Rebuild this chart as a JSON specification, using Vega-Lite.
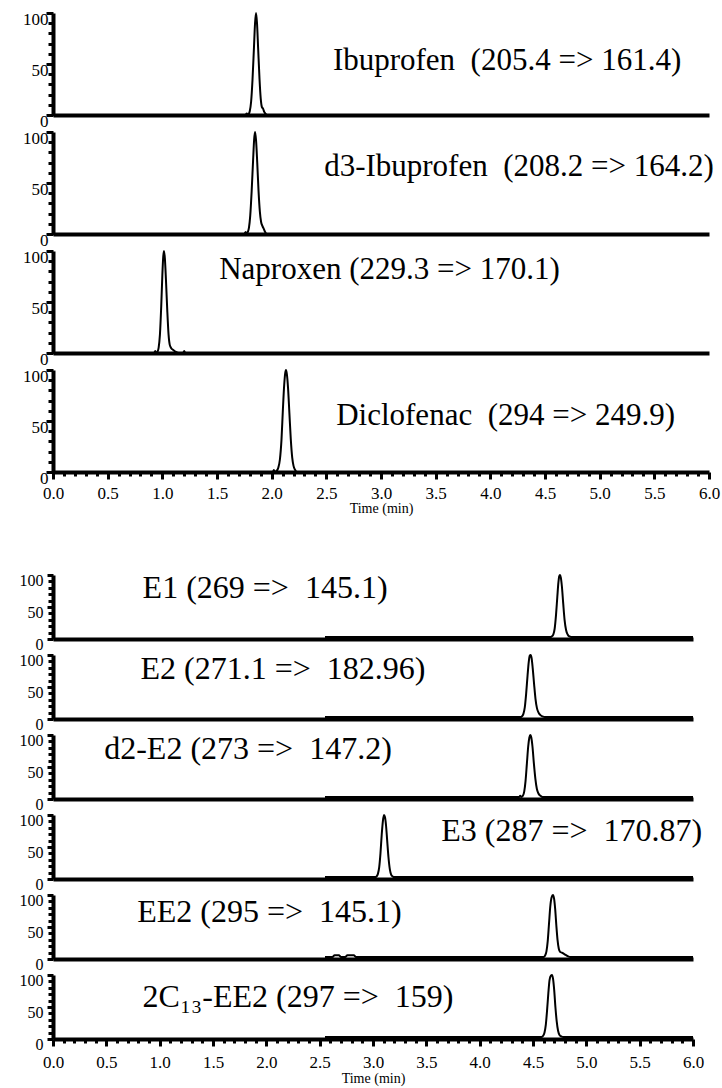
{
  "$schema": "https://vega.github.io/schema/vega-lite/v6.json",
  "background": "white",
  "padding": {"left": 13, "top": 9, "right": 5, "bottom": 5},
  "config": {
    "view": {"stroke": null},
    "axis": {"domainColor": "black", "domainWidth": 4, "tickColor": "black", "tickWidth": 3, "labelColor": "black", "labelFont": "Liberation Serif", "titleFont": "Liberation Serif", "titleColor": "black", "titleFontWeight": "normal", "grid": false, "labelFlush": false, "labelOverlap": false, "labelBound": false},
    "text": {"font": "Liberation Serif", "align": "left", "baseline": "alphabetic", "color": "black"},
    "line": {"color": "black", "strokeWidth": 2, "interpolate": "monotone"}
  },
  "datasets": {
    "top": [
      {"p":"Ibuprofen","t":0,"i":0},{"p":"Ibuprofen","t":1.76,"i":0},{"p":"Ibuprofen","t":1.772,"i":1.5},{"p":"Ibuprofen","t":1.782,"i":0},{"p":"Ibuprofen","t":1.79,"i":1},{"p":"Ibuprofen","t":1.8,"i":4},{"p":"Ibuprofen","t":1.812,"i":13},{"p":"Ibuprofen","t":1.825,"i":35},{"p":"Ibuprofen","t":1.838,"i":66},{"p":"Ibuprofen","t":1.848,"i":90},{"p":"Ibuprofen","t":1.857,"i":100},{"p":"Ibuprofen","t":1.866,"i":90},{"p":"Ibuprofen","t":1.876,"i":66},{"p":"Ibuprofen","t":1.889,"i":35},{"p":"Ibuprofen","t":1.9,"i":16},{"p":"Ibuprofen","t":1.91,"i":8},{"p":"Ibuprofen","t":1.922,"i":6},{"p":"Ibuprofen","t":1.932,"i":3},{"p":"Ibuprofen","t":1.945,"i":1},{"p":"Ibuprofen","t":1.96,"i":0},{"p":"Ibuprofen","t":6,"i":0},
      {"p":"d3-Ibuprofen","t":0,"i":0},{"p":"d3-Ibuprofen","t":1.75,"i":0},{"p":"d3-Ibuprofen","t":1.762,"i":2},{"p":"d3-Ibuprofen","t":1.772,"i":0},{"p":"d3-Ibuprofen","t":1.782,"i":2},{"p":"d3-Ibuprofen","t":1.792,"i":6},{"p":"d3-Ibuprofen","t":1.804,"i":18},{"p":"d3-Ibuprofen","t":1.817,"i":42},{"p":"d3-Ibuprofen","t":1.83,"i":72},{"p":"d3-Ibuprofen","t":1.84,"i":93},{"p":"d3-Ibuprofen","t":1.848,"i":100},{"p":"d3-Ibuprofen","t":1.857,"i":92},{"p":"d3-Ibuprofen","t":1.868,"i":70},{"p":"d3-Ibuprofen","t":1.88,"i":42},{"p":"d3-Ibuprofen","t":1.892,"i":22},{"p":"d3-Ibuprofen","t":1.903,"i":12},{"p":"d3-Ibuprofen","t":1.915,"i":8},{"p":"d3-Ibuprofen","t":1.928,"i":5},{"p":"d3-Ibuprofen","t":1.94,"i":2},{"p":"d3-Ibuprofen","t":1.955,"i":0},{"p":"d3-Ibuprofen","t":2.55,"i":0},
      {"p":"Naproxen","t":0,"i":0},{"p":"Naproxen","t":0.925,"i":0},{"p":"Naproxen","t":0.935,"i":2},{"p":"Naproxen","t":0.945,"i":0},{"p":"Naproxen","t":0.955,"i":1},{"p":"Naproxen","t":0.966,"i":5},{"p":"Naproxen","t":0.978,"i":18},{"p":"Naproxen","t":0.99,"i":46},{"p":"Naproxen","t":1.0,"i":76},{"p":"Naproxen","t":1.008,"i":94},{"p":"Naproxen","t":1.015,"i":100},{"p":"Naproxen","t":1.023,"i":93},{"p":"Naproxen","t":1.033,"i":72},{"p":"Naproxen","t":1.045,"i":42},{"p":"Naproxen","t":1.057,"i":18},{"p":"Naproxen","t":1.068,"i":8},{"p":"Naproxen","t":1.08,"i":5},{"p":"Naproxen","t":1.1,"i":3},{"p":"Naproxen","t":1.125,"i":1},{"p":"Naproxen","t":1.15,"i":0},{"p":"Naproxen","t":1.19,"i":0},{"p":"Naproxen","t":1.2,"i":2},{"p":"Naproxen","t":1.21,"i":0},{"p":"Naproxen","t":2.55,"i":0},
      {"p":"Diclofenac","t":0,"i":0},{"p":"Diclofenac","t":2.01,"i":0},{"p":"Diclofenac","t":2.02,"i":2},{"p":"Diclofenac","t":2.03,"i":0},{"p":"Diclofenac","t":2.045,"i":1},{"p":"Diclofenac","t":2.06,"i":4},{"p":"Diclofenac","t":2.075,"i":12},{"p":"Diclofenac","t":2.09,"i":32},{"p":"Diclofenac","t":2.103,"i":62},{"p":"Diclofenac","t":2.115,"i":86},{"p":"Diclofenac","t":2.124,"i":97},{"p":"Diclofenac","t":2.131,"i":100},{"p":"Diclofenac","t":2.139,"i":96},{"p":"Diclofenac","t":2.15,"i":82},{"p":"Diclofenac","t":2.162,"i":58},{"p":"Diclofenac","t":2.175,"i":32},{"p":"Diclofenac","t":2.188,"i":14},{"p":"Diclofenac","t":2.2,"i":6},{"p":"Diclofenac","t":2.215,"i":2},{"p":"Diclofenac","t":2.23,"i":0},{"p":"Diclofenac","t":2.55,"i":0},
      {"p":"Ibuprofen","t":2.56,"i":44,"txt":"Ibuprofen \u00a0(205.4 => 161.4)"},
      {"p":"d3-Ibuprofen","t":2.48,"i":57,"txt":"d3-Ibuprofen \u00a0(208.2 => 164.2)"},
      {"p":"Naproxen","t":1.52,"i":73,"txt":"Naproxen (229.3 => 170.1)"},
      {"p":"Diclofenac","t":2.59,"i":46,"txt":"Diclofenac \u00a0(294 => 249.9)"}
    ],
    "bot": [
      {"p":"E1","t":2.55,"i":3},{"p":"E1","t":4.66,"i":3},{"p":"E1","t":4.675,"i":4},{"p":"E1","t":4.69,"i":7},{"p":"E1","t":4.703,"i":16},{"p":"E1","t":4.716,"i":38},{"p":"E1","t":4.728,"i":66},{"p":"E1","t":4.738,"i":88},{"p":"E1","t":4.746,"i":98},{"p":"E1","t":4.753,"i":100},{"p":"E1","t":4.761,"i":96},{"p":"E1","t":4.771,"i":82},{"p":"E1","t":4.783,"i":56},{"p":"E1","t":4.796,"i":30},{"p":"E1","t":4.81,"i":14},{"p":"E1","t":4.825,"i":7},{"p":"E1","t":4.84,"i":4},{"p":"E1","t":4.86,"i":3},{"p":"E1","t":6,"i":3},
      {"p":"E2","t":2.55,"i":3},{"p":"E2","t":4.38,"i":3},{"p":"E2","t":4.395,"i":4},{"p":"E2","t":4.41,"i":8},{"p":"E2","t":4.423,"i":18},{"p":"E2","t":4.436,"i":40},{"p":"E2","t":4.449,"i":68},{"p":"E2","t":4.46,"i":89},{"p":"E2","t":4.47,"i":99},{"p":"E2","t":4.478,"i":100},{"p":"E2","t":4.487,"i":95},{"p":"E2","t":4.497,"i":80},{"p":"E2","t":4.51,"i":55},{"p":"E2","t":4.523,"i":32},{"p":"E2","t":4.537,"i":17},{"p":"E2","t":4.552,"i":10},{"p":"E2","t":4.57,"i":6},{"p":"E2","t":4.59,"i":4},{"p":"E2","t":4.61,"i":3},{"p":"E2","t":6,"i":3},
      {"p":"d2-E2","t":2.55,"i":3},{"p":"d2-E2","t":4.37,"i":3},{"p":"d2-E2","t":4.38,"i":5},{"p":"d2-E2","t":4.39,"i":3},{"p":"d2-E2","t":4.405,"i":5},{"p":"d2-E2","t":4.418,"i":12},{"p":"d2-E2","t":4.43,"i":28},{"p":"d2-E2","t":4.443,"i":56},{"p":"d2-E2","t":4.455,"i":82},{"p":"d2-E2","t":4.466,"i":96},{"p":"d2-E2","t":4.475,"i":100},{"p":"d2-E2","t":4.484,"i":96},{"p":"d2-E2","t":4.495,"i":82},{"p":"d2-E2","t":4.508,"i":56},{"p":"d2-E2","t":4.522,"i":32},{"p":"d2-E2","t":4.536,"i":16},{"p":"d2-E2","t":4.55,"i":9},{"p":"d2-E2","t":4.57,"i":5},{"p":"d2-E2","t":4.59,"i":3},{"p":"d2-E2","t":6,"i":3},
      {"p":"E3","t":2.55,"i":3},{"p":"E3","t":3.02,"i":3},{"p":"E3","t":3.033,"i":4},{"p":"E3","t":3.046,"i":8},{"p":"E3","t":3.058,"i":18},{"p":"E3","t":3.07,"i":40},{"p":"E3","t":3.082,"i":70},{"p":"E3","t":3.093,"i":91},{"p":"E3","t":3.103,"i":100},{"p":"E3","t":3.112,"i":97},{"p":"E3","t":3.122,"i":84},{"p":"E3","t":3.133,"i":60},{"p":"E3","t":3.145,"i":34},{"p":"E3","t":3.158,"i":15},{"p":"E3","t":3.17,"i":7},{"p":"E3","t":3.185,"i":4},{"p":"E3","t":3.2,"i":3},{"p":"E3","t":6,"i":3},
      {"p":"EE2","t":2.55,"i":3},{"p":"EE2","t":2.62,"i":3},{"p":"EE2","t":2.64,"i":6},{"p":"EE2","t":2.68,"i":6},{"p":"EE2","t":2.7,"i":3},{"p":"EE2","t":2.74,"i":3},{"p":"EE2","t":2.76,"i":6},{"p":"EE2","t":2.82,"i":6},{"p":"EE2","t":2.84,"i":3},{"p":"EE2","t":4.6,"i":3},{"p":"EE2","t":4.612,"i":5},{"p":"EE2","t":4.626,"i":12},{"p":"EE2","t":4.638,"i":28},{"p":"EE2","t":4.65,"i":55},{"p":"EE2","t":4.662,"i":82},{"p":"EE2","t":4.674,"i":96},{"p":"EE2","t":4.687,"i":100},{"p":"EE2","t":4.698,"i":94},{"p":"EE2","t":4.708,"i":78},{"p":"EE2","t":4.719,"i":52},{"p":"EE2","t":4.73,"i":30},{"p":"EE2","t":4.742,"i":16},{"p":"EE2","t":4.755,"i":11},{"p":"EE2","t":4.77,"i":10},{"p":"EE2","t":4.79,"i":8},{"p":"EE2","t":4.81,"i":6},{"p":"EE2","t":4.83,"i":4},{"p":"EE2","t":4.85,"i":3},{"p":"EE2","t":6,"i":3},
      {"p":"2C13-EE2","t":2.55,"i":3},{"p":"2C13-EE2","t":4.58,"i":3},{"p":"2C13-EE2","t":4.595,"i":5},{"p":"2C13-EE2","t":4.608,"i":10},{"p":"2C13-EE2","t":4.62,"i":22},{"p":"2C13-EE2","t":4.632,"i":45},{"p":"2C13-EE2","t":4.644,"i":72},{"p":"2C13-EE2","t":4.655,"i":92},{"p":"2C13-EE2","t":4.668,"i":99},{"p":"2C13-EE2","t":4.678,"i":100},{"p":"2C13-EE2","t":4.688,"i":94},{"p":"2C13-EE2","t":4.699,"i":76},{"p":"2C13-EE2","t":4.71,"i":50},{"p":"2C13-EE2","t":4.722,"i":28},{"p":"2C13-EE2","t":4.735,"i":13},{"p":"2C13-EE2","t":4.75,"i":6},{"p":"2C13-EE2","t":4.765,"i":4},{"p":"2C13-EE2","t":4.785,"i":3},{"p":"2C13-EE2","t":6,"i":3},
      {"p":"E1","t":0.84,"i":64,"txt":"E1 (269 => \u00a0145.1)"},
      {"p":"E2","t":0.82,"i":63,"txt":"E2 (271.1 => \u00a0182.96)"},
      {"p":"d2-E2","t":0.48,"i":62,"txt":"d2-E2 (273 => \u00a0147.2)"},
      {"p":"E3","t":3.64,"i":60,"txt":"E3 (287 => \u00a0170.87)"},
      {"p":"EE2","t":0.79,"i":58,"txt":"EE2 (295 => \u00a0145.1)"},
      {"p":"2C13-EE2","t":0.84,"i":50,"txt":"2C\u2081\u2083-EE2 (297 => \u00a0159)"}
    ]
  },
  "spacing": 56,
  "vconcat": [
    {
      "spacing": 17,
      "bounds": "flush",
      "vconcat": [
        {"width": 656, "height": 102, "data": {"name": "top"}, "transform": [{"filter": "datum.p === 'Ibuprofen'"}],
         "encoding": {
           "x": {"field": "t", "type": "quantitative", "scale": {"domain": [0, 6], "nice": false, "zero": false}, "axis": {"title": null, "labels": false, "ticks": false, "domainWidth": 4, "domainColor": "black"}},
           "y": {"field": "i", "type": "quantitative", "scale": {"domain": [0, 100], "nice": false}, "axis": {"title": null, "tickCount": 10, "labelExpr": "datum.value % 50 === 0 ? datum.label : ''", "tickSize": {"condition": {"test": "datum.value % 50 === 0", "value": 7}, "value": 5}, "tickWidth": 3, "tickColor": "black", "domainWidth": 4, "domainColor": "black", "labelBaseline": "top", "labelOffset": -2, "labelPadding": -2, "labelFontSize": 17, "labelFont": "Liberation Serif", "labelColor": "black", "minExtent": 34, "maxExtent": 34}}
         },
         "layer": [
           {"transform": [{"filter": "!isValid(datum.txt)"}], "mark": {"type": "line", "color": "black", "strokeWidth": 2, "interpolate": "monotone"}},
           {"transform": [{"filter": "isValid(datum.txt)"}], "mark": {"type": "text", "fontSize": 31, "font": "Liberation Serif", "align": "left", "baseline": "alphabetic", "color": "black"}, "encoding": {"text": {"field": "txt"}}}
         ]},
        {"width": 656, "height": 102, "data": {"name": "top"}, "transform": [{"filter": "datum.p === 'd3-Ibuprofen'"}],
         "encoding": {
           "x": {"field": "t", "type": "quantitative", "scale": {"domain": [0, 6], "nice": false, "zero": false}, "axis": {"title": null, "labels": false, "ticks": false, "domainWidth": 4, "domainColor": "black"}},
           "y": {"field": "i", "type": "quantitative", "scale": {"domain": [0, 100], "nice": false}, "axis": {"title": null, "tickCount": 10, "labelExpr": "datum.value % 50 === 0 ? datum.label : ''", "tickSize": {"condition": {"test": "datum.value % 50 === 0", "value": 7}, "value": 5}, "tickWidth": 3, "tickColor": "black", "domainWidth": 4, "domainColor": "black", "labelBaseline": "top", "labelOffset": -2, "labelPadding": -2, "labelFontSize": 17, "labelFont": "Liberation Serif", "labelColor": "black", "minExtent": 34, "maxExtent": 34}}
         },
         "layer": [
           {"transform": [{"filter": "!isValid(datum.txt)"}], "mark": {"type": "line", "color": "black", "strokeWidth": 2, "interpolate": "monotone"}},
           {"transform": [{"filter": "isValid(datum.txt)"}], "mark": {"type": "text", "fontSize": 31, "font": "Liberation Serif", "align": "left", "baseline": "alphabetic", "color": "black"}, "encoding": {"text": {"field": "txt"}}}
         ]},
        {"width": 656, "height": 102, "data": {"name": "top"}, "transform": [{"filter": "datum.p === 'Naproxen'"}],
         "encoding": {
           "x": {"field": "t", "type": "quantitative", "scale": {"domain": [0, 6], "nice": false, "zero": false}, "axis": {"title": null, "labels": false, "ticks": false, "domainWidth": 4, "domainColor": "black"}},
           "y": {"field": "i", "type": "quantitative", "scale": {"domain": [0, 100], "nice": false}, "axis": {"title": null, "tickCount": 10, "labelExpr": "datum.value % 50 === 0 ? datum.label : ''", "tickSize": {"condition": {"test": "datum.value % 50 === 0", "value": 7}, "value": 5}, "tickWidth": 3, "tickColor": "black", "domainWidth": 4, "domainColor": "black", "labelBaseline": "top", "labelOffset": -2, "labelPadding": -2, "labelFontSize": 17, "labelFont": "Liberation Serif", "labelColor": "black", "minExtent": 34, "maxExtent": 34}}
         },
         "layer": [
           {"transform": [{"filter": "!isValid(datum.txt)"}], "mark": {"type": "line", "color": "black", "strokeWidth": 2, "interpolate": "monotone"}},
           {"transform": [{"filter": "isValid(datum.txt)"}], "mark": {"type": "text", "fontSize": 31, "font": "Liberation Serif", "align": "left", "baseline": "alphabetic", "color": "black"}, "encoding": {"text": {"field": "txt"}}}
         ]},
        {"width": 656, "height": 102, "data": {"name": "top"}, "transform": [{"filter": "datum.p === 'Diclofenac'"}],
         "encoding": {
           "x": {"field": "t", "type": "quantitative", "scale": {"domain": [0, 6], "nice": false, "zero": false}, "axis": {"title": "Time (min)", "tickCount": 60, "format": ".1f", "labelExpr": "round(datum.value * 10) % 5 === 0 ? datum.label : ''", "tickSize": {"condition": {"test": "round(datum.value * 10) % 5 === 0", "value": 7}, "value": 4}, "tickWidth": 3, "tickColor": "black", "domainWidth": 4, "domainColor": "black", "labelPadding": 6, "labelFontSize": 17, "labelFont": "Liberation Serif", "labelColor": "black", "titleFont": "Liberation Serif", "titleFontSize": 14, "titleFontWeight": "normal", "titleColor": "black", "titlePadding": 0, "minExtent": 29, "maxExtent": 29}},
           "y": {"field": "i", "type": "quantitative", "scale": {"domain": [0, 100], "nice": false}, "axis": {"title": null, "tickCount": 10, "labelExpr": "datum.value % 50 === 0 ? datum.label : ''", "tickSize": {"condition": {"test": "datum.value % 50 === 0", "value": 7}, "value": 5}, "tickWidth": 3, "tickColor": "black", "domainWidth": 4, "domainColor": "black", "labelBaseline": "top", "labelOffset": -2, "labelPadding": -2, "labelFontSize": 17, "labelFont": "Liberation Serif", "labelColor": "black", "minExtent": 34, "maxExtent": 34}}
         },
         "layer": [
           {"transform": [{"filter": "!isValid(datum.txt)"}], "mark": {"type": "line", "color": "black", "strokeWidth": 2, "interpolate": "monotone"}},
           {"transform": [{"filter": "isValid(datum.txt)"}], "mark": {"type": "text", "fontSize": 31, "font": "Liberation Serif", "align": "left", "baseline": "alphabetic", "color": "black"}, "encoding": {"text": {"field": "txt"}}}
         ]}
      ]
    },
    {
      "spacing": 16,
      "bounds": "flush",
      "vconcat": [
        {"width": 640, "height": 64, "data": {"name": "bot"}, "transform": [{"filter": "datum.p === 'E1'"}],
         "encoding": {
           "x": {"field": "t", "type": "quantitative", "scale": {"domain": [0, 6], "nice": false, "zero": false}, "axis": {"title": null, "labels": false, "ticks": false, "domainWidth": 4, "domainColor": "black"}},
           "y": {"field": "i", "type": "quantitative", "scale": {"domain": [0, 100], "nice": false}, "axis": {"title": null, "tickCount": 10, "labelExpr": "datum.value % 50 === 0 ? datum.label : ''", "tickSize": {"condition": {"test": "datum.value % 50 === 0", "value": 6}, "value": 5}, "tickWidth": 3, "tickColor": "black", "domainWidth": 4, "domainColor": "black", "labelBaseline": "top", "labelOffset": -3, "labelPadding": 4, "labelFontSize": 16, "labelFont": "Liberation Serif", "labelColor": "black", "minExtent": 40, "maxExtent": 40}}
         },
         "layer": [
           {"transform": [{"filter": "!isValid(datum.txt)"}], "mark": {"type": "line", "color": "black", "strokeWidth": 2, "interpolate": "monotone"}},
           {"transform": [{"filter": "isValid(datum.txt)"}], "mark": {"type": "text", "fontSize": 32, "font": "Liberation Serif", "align": "left", "baseline": "alphabetic", "color": "black"}, "encoding": {"text": {"field": "txt"}}}
         ]},
        {"width": 640, "height": 64, "data": {"name": "bot"}, "transform": [{"filter": "datum.p === 'E2'"}],
         "encoding": {
           "x": {"field": "t", "type": "quantitative", "scale": {"domain": [0, 6], "nice": false, "zero": false}, "axis": {"title": null, "labels": false, "ticks": false, "domainWidth": 4, "domainColor": "black"}},
           "y": {"field": "i", "type": "quantitative", "scale": {"domain": [0, 100], "nice": false}, "axis": {"title": null, "tickCount": 10, "labelExpr": "datum.value % 50 === 0 ? datum.label : ''", "tickSize": {"condition": {"test": "datum.value % 50 === 0", "value": 6}, "value": 5}, "tickWidth": 3, "tickColor": "black", "domainWidth": 4, "domainColor": "black", "labelBaseline": "top", "labelOffset": -3, "labelPadding": 4, "labelFontSize": 16, "labelFont": "Liberation Serif", "labelColor": "black", "minExtent": 40, "maxExtent": 40}}
         },
         "layer": [
           {"transform": [{"filter": "!isValid(datum.txt)"}], "mark": {"type": "line", "color": "black", "strokeWidth": 2, "interpolate": "monotone"}},
           {"transform": [{"filter": "isValid(datum.txt)"}], "mark": {"type": "text", "fontSize": 32, "font": "Liberation Serif", "align": "left", "baseline": "alphabetic", "color": "black"}, "encoding": {"text": {"field": "txt"}}}
         ]},
        {"width": 640, "height": 64, "data": {"name": "bot"}, "transform": [{"filter": "datum.p === 'd2-E2'"}],
         "encoding": {
           "x": {"field": "t", "type": "quantitative", "scale": {"domain": [0, 6], "nice": false, "zero": false}, "axis": {"title": null, "labels": false, "ticks": false, "domainWidth": 4, "domainColor": "black"}},
           "y": {"field": "i", "type": "quantitative", "scale": {"domain": [0, 100], "nice": false}, "axis": {"title": null, "tickCount": 10, "labelExpr": "datum.value % 50 === 0 ? datum.label : ''", "tickSize": {"condition": {"test": "datum.value % 50 === 0", "value": 6}, "value": 5}, "tickWidth": 3, "tickColor": "black", "domainWidth": 4, "domainColor": "black", "labelBaseline": "top", "labelOffset": -3, "labelPadding": 4, "labelFontSize": 16, "labelFont": "Liberation Serif", "labelColor": "black", "minExtent": 40, "maxExtent": 40}}
         },
         "layer": [
           {"transform": [{"filter": "!isValid(datum.txt)"}], "mark": {"type": "line", "color": "black", "strokeWidth": 2, "interpolate": "monotone"}},
           {"transform": [{"filter": "isValid(datum.txt)"}], "mark": {"type": "text", "fontSize": 32, "font": "Liberation Serif", "align": "left", "baseline": "alphabetic", "color": "black"}, "encoding": {"text": {"field": "txt"}}}
         ]},
        {"width": 640, "height": 64, "data": {"name": "bot"}, "transform": [{"filter": "datum.p === 'E3'"}],
         "encoding": {
           "x": {"field": "t", "type": "quantitative", "scale": {"domain": [0, 6], "nice": false, "zero": false}, "axis": {"title": null, "labels": false, "ticks": false, "domainWidth": 4, "domainColor": "black"}},
           "y": {"field": "i", "type": "quantitative", "scale": {"domain": [0, 100], "nice": false}, "axis": {"title": null, "tickCount": 10, "labelExpr": "datum.value % 50 === 0 ? datum.label : ''", "tickSize": {"condition": {"test": "datum.value % 50 === 0", "value": 6}, "value": 5}, "tickWidth": 3, "tickColor": "black", "domainWidth": 4, "domainColor": "black", "labelBaseline": "top", "labelOffset": -3, "labelPadding": 4, "labelFontSize": 16, "labelFont": "Liberation Serif", "labelColor": "black", "minExtent": 40, "maxExtent": 40}}
         },
         "layer": [
           {"transform": [{"filter": "!isValid(datum.txt)"}], "mark": {"type": "line", "color": "black", "strokeWidth": 2, "interpolate": "monotone"}},
           {"transform": [{"filter": "isValid(datum.txt)"}], "mark": {"type": "text", "fontSize": 32, "font": "Liberation Serif", "align": "left", "baseline": "alphabetic", "color": "black"}, "encoding": {"text": {"field": "txt"}}}
         ]},
        {"width": 640, "height": 64, "data": {"name": "bot"}, "transform": [{"filter": "datum.p === 'EE2'"}],
         "encoding": {
           "x": {"field": "t", "type": "quantitative", "scale": {"domain": [0, 6], "nice": false, "zero": false}, "axis": {"title": null, "labels": false, "ticks": false, "domainWidth": 4, "domainColor": "black"}},
           "y": {"field": "i", "type": "quantitative", "scale": {"domain": [0, 100], "nice": false}, "axis": {"title": null, "tickCount": 10, "labelExpr": "datum.value % 50 === 0 ? datum.label : ''", "tickSize": {"condition": {"test": "datum.value % 50 === 0", "value": 6}, "value": 5}, "tickWidth": 3, "tickColor": "black", "domainWidth": 4, "domainColor": "black", "labelBaseline": "top", "labelOffset": -3, "labelPadding": 4, "labelFontSize": 16, "labelFont": "Liberation Serif", "labelColor": "black", "minExtent": 40, "maxExtent": 40}}
         },
         "layer": [
           {"transform": [{"filter": "!isValid(datum.txt)"}], "mark": {"type": "line", "color": "black", "strokeWidth": 2, "interpolate": "monotone"}},
           {"transform": [{"filter": "isValid(datum.txt)"}], "mark": {"type": "text", "fontSize": 32, "font": "Liberation Serif", "align": "left", "baseline": "alphabetic", "color": "black"}, "encoding": {"text": {"field": "txt"}}}
         ]},
        {"width": 640, "height": 64, "data": {"name": "bot"}, "transform": [{"filter": "datum.p === '2C13-EE2'"}],
         "encoding": {
           "x": {"field": "t", "type": "quantitative", "scale": {"domain": [0, 6], "nice": false, "zero": false}, "axis": {"title": "Time (min)", "tickCount": 60, "format": ".1f", "labelExpr": "round(datum.value * 10) % 5 === 0 ? datum.label : ''", "tickSize": {"condition": {"test": "round(datum.value * 10) % 5 === 0", "value": 7}, "value": 4}, "tickWidth": 3, "tickColor": "black", "domainWidth": 4, "domainColor": "black", "labelPadding": 8, "labelFontSize": 17, "labelFont": "Liberation Serif", "labelColor": "black", "titleFont": "Liberation Serif", "titleFontSize": 14, "titleFontWeight": "normal", "titleColor": "black", "titlePadding": 4, "minExtent": 28, "maxExtent": 28}},
           "y": {"field": "i", "type": "quantitative", "scale": {"domain": [0, 100], "nice": false}, "axis": {"title": null, "tickCount": 10, "labelExpr": "datum.value % 50 === 0 ? datum.label : ''", "tickSize": {"condition": {"test": "datum.value % 50 === 0", "value": 6}, "value": 5}, "tickWidth": 3, "tickColor": "black", "domainWidth": 4, "domainColor": "black", "labelBaseline": "top", "labelOffset": -3, "labelPadding": 4, "labelFontSize": 16, "labelFont": "Liberation Serif", "labelColor": "black", "minExtent": 40, "maxExtent": 40}}
         },
         "layer": [
           {"transform": [{"filter": "!isValid(datum.txt)"}], "mark": {"type": "line", "color": "black", "strokeWidth": 2, "interpolate": "monotone"}},
           {"transform": [{"filter": "isValid(datum.txt)"}], "mark": {"type": "text", "fontSize": 32, "font": "Liberation Serif", "align": "left", "baseline": "alphabetic", "color": "black"}, "encoding": {"text": {"field": "txt"}}}
         ]}
      ]
    }
  ]
}
